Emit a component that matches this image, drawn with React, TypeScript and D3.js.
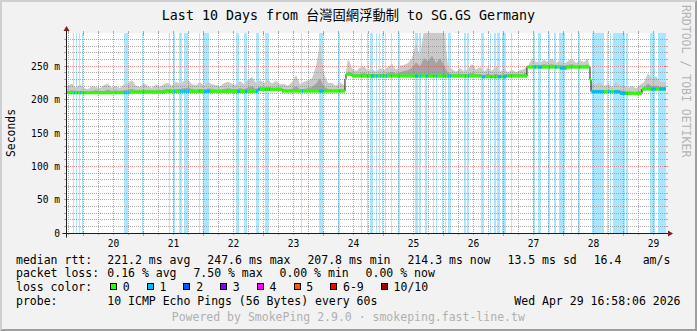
import React from 'react';
import * as d3 from 'd3';

const WIDTH = 697;
const HEIGHT = 331;
const FONT = '"DejaVu Sans Mono", "Noto Sans CJK TC", monospace';

const titleText = 'Last 10 Days from 台灣固網浮動制 to SG.GS Germany';
const yAxisTitle = 'Seconds';
const watermark = 'RRDTOOL / TOBI OETIKER';

// time is expressed in (fractional) days of April 2026
const timeStart = 19.70701; // Apr 19 16:58:06
const timeEnd = 29.70701; // Apr 29 16:58:06
const valueMax = 300; // ms

const yTickValues = [0, 50, 100, 150, 200, 250];
const yTickLabels = ['0', '50 m', '100 m', '150 m', '200 m', '250 m'];
const dayLabels = ['20', '21', '22', '23', '24', '25', '26', '27', '28', '29'];

// median rtt (ms), step segments starting at these times
const medianStart = [
  19.70701, 20.774, 21.357, 22.907, 23.307, 24.357, 24.374, 24.474, 26.64, 27.04,
  27.39, 27.94, 28.057, 28.44, 28.457, 28.94, 29.307,
];
const medianValue = [
  210.5, 211.5, 212.5, 215.5, 213, 231, 238, 235.5, 234.5, 235.5,
  249, 247.5, 249, 230, 212, 209.5, 216,
];

// periods with 1/10 packet loss [from, to]
const lossSpans: [number, number][] = [
  [19.84, 19.857], [19.89, 19.907], [19.94, 19.957], [19.99, 20.007],
  [20.674, 20.69], [20.707, 20.724], [20.74, 20.757], [20.99, 21.007],
  [21.424, 21.44], [21.507, 21.524], [21.607, 21.624], [21.64, 21.657],
  [21.674, 21.69], [21.707, 21.724], [21.74, 21.757], [21.924, 21.94],
  [22.007, 22.107], [22.557, 22.607], [22.69, 22.724], [22.874, 22.94],
  [23.024, 23.04], [23.057, 23.074], [23.09, 23.107], [23.64, 23.657],
  [23.924, 24.007], [24.257, 24.274], [24.624, 24.64], [24.724, 24.74],
  [24.79, 24.84], [24.874, 24.89], [24.94, 24.957], [24.99, 25.007],
  [25.04, 25.057], [25.124, 25.14], [25.257, 25.274], [25.524, 25.574],
  [25.607, 25.624], [25.707, 25.74], [25.824, 25.84], [25.874, 25.89],
  [25.99, 26.007], [26.024, 26.04], [26.074, 26.09], [26.107, 26.124],
  [26.357, 26.374], [26.407, 26.424], [26.64, 26.69], [26.79, 26.807],
  [26.857, 26.874], [26.907, 26.957], [26.99, 27.057], [27.124, 27.14],
  [27.507, 27.54], [27.574, 27.64], [27.757, 27.774], [27.857, 27.89],
  [27.94, 28.04], [28.124, 28.14], [28.257, 28.274], [28.474, 28.674],
  [28.74, 28.757], [28.774, 28.79], [28.84, 29.04], [29.057, 29.074],
  [29.457, 29.54], [29.59, 29.70701],
];

// smoke: one sample every 1.6 h (1/15 day) from timeStart
const smokeStepDays = 1 / 15;
const smokeMax = [
  221, 224, 218, 223, 217, 216, 220, 219, 217, 222, 224, 218, 221, 217, 223, 225,
  229, 221, 219, 225, 220, 218, 223, 219, 224,
  225, 221, 227, 224, 228, 230, 223, 222, 226, 221, 227, 223, 222, 220, 225, 227, 224, 222, 228, 223, 230, 234, 225,
  229, 225, 230, 224, 228, 223,
  224, 221, 226, 237, 223, 227, 229, 232, 250, 283, 238, 225,
  225, 221, 226, 222,
  262,
  247, 243, 248, 250, 243, 246, 242, 247, 244, 249, 254, 245, 251,
  252, 255, 262, 285, 265, 310, 310, 310, 310, 310, 310, 250,
  246, 242, 247, 243, 246,
  254, 245, 249, 242, 248, 243, 250, 242, 246, 241, 245, 241, 244, 246, 250,
  262, 257, 255, 260, 256, 262, 255, 259, 254, 258, 261, 255, 259, 256, 262,
  224,
  223, 226, 220, 224, 219, 226, 221, 222, 218, 221, 217, 222,
  226, 240, 231, 235, 227, 226,
];
const smokeMid = [
  213, 214, 213, 213, 213, 212, 213, 214, 213, 213, 215, 213, 214, 213, 214, 215,
  216, 214, 214, 215, 214, 214, 214, 214, 215,
  216, 215, 216, 216, 217, 218, 216, 215, 216, 215, 217, 216, 215, 215, 216, 217, 216, 216, 217, 216, 218, 220, 216,
  219, 218, 219, 218, 218, 218,
  216, 215, 216, 220, 216, 216, 217, 219, 224, 232, 219, 216,
  215, 215, 216, 215,
  243,
  238, 238, 239, 240, 238, 239, 238, 239, 238, 240, 242, 239, 241,
  243, 244, 248, 256, 250, 262, 258, 266, 255, 262, 252, 240,
  238, 238, 239, 238, 239,
  240, 238, 238, 237, 239, 237, 239, 237, 238, 238, 239, 238, 238, 239, 241,
  252, 252, 251, 253, 252, 253, 251, 252, 251, 252, 253, 251, 252, 251, 253,
  214,
  214, 215, 214, 214, 213, 215, 214, 213, 212, 212, 211, 213,
  219, 224, 220, 221, 219, 219,
];

// legend
const rttLabel = 'median rtt:';
const rttStats = ['221.2 ms avg', '247.6 ms max', '207.8 ms min', '214.3 ms now', '13.5 ms sd'];
const amsValue = '16.4';
const amsUnit = 'am/s';
const lossLabel = 'packet loss:';
const lossStats = ['0.16 % avg', '7.50 % max', '0.00 % min', '0.00 % now'];
const lossColorLabel = 'loss color:';
const lossColorNames = ['0', '1', '2', '3', '4', '5', '6-9', '10/10'];
const lossColors = ['#26ff00', '#00b8ff', '#0059ff', '#7e00ff', '#ff00ff', '#ff5500', '#ff0000', '#a10000'];
const probeLabel = 'probe:';
const probeText = '10 ICMP Echo Pings (56 Bytes) every 60s';
const dateText = 'Wed Apr 29 16:58:06 2026';
const footerText = 'Powered by SmokePing 2.9.0 · smokeping.fast-line.tw';

type Pt = [number, number];

export default function App() {
  const x = d3.scaleLinear().domain([timeStart, timeEnd]).range([66, 666]);
  const y = d3.scaleLinear().domain([0, valueMax]).range([233, 33]);
  const left = x(timeStart);
  const right = x(timeEnd);
  const top = y(valueMax);
  const bottom = y(0);
  const X0 = Math.floor(left) + 0.5;
  const Y0 = Math.floor(bottom) + 0.5;
  const gx = (t: number) => Math.floor(x(t)) + 0.5;
  const gy = (v: number) => Math.floor(y(v)) + 0.5;

  const medianAt = (t: number) => {
    let v = medianValue[0];
    medianStart.forEach((s, i) => {
      if (s <= t) v = medianValue[i];
    });
    return v;
  };
  const medianPts: Pt[] = medianStart
    .map((t, i) => [t, medianValue[i]] as Pt)
    .concat([[timeEnd, medianValue[medianValue.length - 1]]]);

  const stepLine = d3.line<Pt>().curve(d3.curveStepAfter).x((d) => x(d[0])).y((d) => y(d[1]));
  const band = d3
    .area<Pt>()
    .curve(d3.curveStepAfter)
    .x((d) => x(d[0]))
    .y0((d) => y(d[1]) + 1.5)
    .y1((d) => y(d[1]) - 1.5);
  const clipAbove = d3
    .area<Pt>()
    .curve(d3.curveStepAfter)
    .x((d) => x(d[0]))
    .y0((d) => y(d[1] - 2))
    .y1(() => top);

  const smokePts = (arr: number[]): Pt[] => [
    [timeStart, arr[0]],
    ...arr.map((v, i) => [timeStart + (i + 0.5) * smokeStepDays, v] as Pt),
    [timeEnd, arr[arr.length - 1]],
  ];
  const smokeArea = d3
    .area<Pt>()
    .x((d) => x(d[0]))
    .y0(() => bottom)
    .y1((d) => y(Math.min(d[1], valueMax + 5)));

  const lossPieces = lossSpans.map(([a, b]) => {
    const pts: Pt[] = [[a, medianAt(a)]];
    medianStart.forEach((t, i) => {
      if (t > a && t < b) pts.push([t, medianValue[i]]);
    });
    pts.push([b, medianAt(b - 1e-9)]);
    return pts;
  });

  const minorTimes = d3
    .range(Math.ceil(timeStart * 4) / 4, timeEnd, 0.25)
    .filter((t) => Math.abs(t - Math.round(t)) > 1e-6);
  const majorTimes = d3.range(Math.ceil(timeStart), timeEnd, 1);
  const minorVals = d3.range(10, valueMax, 10).filter((v) => v % 50 !== 0);
  const majorVals = d3.range(50, valueMax, 50);

  const minorCol = 'rgba(143,143,143,0.75)';
  const majorCol = 'rgba(222,79,79,0.6)';
  const dash = '1 1';

  const rowY = [263.5, 277.3, 291, 304.8];
  const charW = 6.92;
  const boxX: number[] = [];
  lossColorNames.reduce((acc, name) => {
    boxX.push(acc);
    return acc + 29.8 + name.length * charW;
  }, 110);

  return (
    <svg
      width={WIDTH}
      height={HEIGHT}
      viewBox={`0 0 ${WIDTH} ${HEIGHT}`}
      style={{ position: 'absolute', left: 0, top: 0, display: 'block' }}
      fontFamily={FONT}
    >
      <defs>
        <clipPath id="aboveMedian">
          <path d={clipAbove(medianPts) || ''} />
        </clipPath>
        <clipPath id="plotClip">
          <rect x={left} y={top} width={right - left} height={bottom - top} />
        </clipPath>
      </defs>
      <rect x={0} y={0} width={WIDTH} height={HEIGHT} fill="#f2f2f2" />
      {/* 3d border */}
      <polygon
        points={`0,0 0,${HEIGHT} 2,${HEIGHT - 2} 2,2 ${WIDTH - 2},2 ${WIDTH},0`}
        fill="#cfcfcf"
      />
      <polygon
        points={`0,${HEIGHT} ${WIDTH},${HEIGHT} ${WIDTH},0 ${WIDTH - 2},2 ${WIDTH - 2},${HEIGHT - 2} 2,${HEIGHT - 2}`}
        fill="#9e9e9e"
      />
      {/* canvas */}
      <rect x={left} y={top} width={right - left} height={bottom - top} fill="#ffffff" />

      {/* loss background */}
      <g clipPath="url(#plotClip)" shapeRendering="crispEdges">
        {lossSpans.map(([a, b], i) => (
          <rect
            key={i}
            x={Math.floor(x(a))}
            y={top}
            width={Math.max(1, Math.floor(x(b)) - Math.floor(x(a)))}
            height={bottom - top}
            fill={lossColors[1]}
            fillOpacity={0.34}
          />
        ))}
      </g>

      {/* smoke */}
      <g clipPath="url(#plotClip)">
        <g clipPath="url(#aboveMedian)">
          <path d={smokeArea(smokePts(smokeMax)) || ''} fill="#cacaca" />
          <path d={smokeArea(smokePts(smokeMid)) || ''} fill="#a4a4a4" />
        </g>
      </g>

      {/* grid */}
      <g strokeWidth={1}>
        {minorTimes.map((t, i) => (
          <line key={'vm' + i} x1={gx(t)} x2={gx(t)} y1={top} y2={bottom} stroke={minorCol} strokeDasharray={dash} />
        ))}
        {minorVals.map((v, i) => (
          <line key={'hm' + i} x1={left} x2={right} y1={gy(v)} y2={gy(v)} stroke={minorCol} strokeDasharray={dash} />
        ))}
        {majorTimes.map((t, i) => (
          <line key={'vM' + i} x1={gx(t)} x2={gx(t)} y1={top} y2={bottom} stroke={majorCol} strokeDasharray={dash} />
        ))}
        {majorVals.map((v, i) => (
          <line key={'hM' + i} x1={left} x2={right} y1={gy(v)} y2={gy(v)} stroke={majorCol} strokeDasharray={dash} />
        ))}
        {/* ticks */}
        {minorVals.map((v, i) => (
          <g key={'tm' + i}>
            <line x1={left - 2} x2={left} y1={gy(v)} y2={gy(v)} stroke={minorCol} />
            <line x1={right} x2={right + 2} y1={gy(v)} y2={gy(v)} stroke={minorCol} />
          </g>
        ))}
        {majorVals.map((v, i) => (
          <g key={'tM' + i}>
            <line x1={left - 2} x2={left + 2} y1={gy(v)} y2={gy(v)} stroke={majorCol} />
            <line x1={right - 2} x2={right + 2} y1={gy(v)} y2={gy(v)} stroke={majorCol} />
          </g>
        ))}
        {minorTimes.map((t, i) => (
          <g key={'xm' + i}>
            <line x1={gx(t)} x2={gx(t)} y1={bottom} y2={bottom + 2} stroke={minorCol} />
            <line x1={gx(t)} x2={gx(t)} y1={top - 2} y2={top} stroke={minorCol} />
          </g>
        ))}
        {majorTimes.map((t, i) => (
          <g key={'xM' + i}>
            <line x1={gx(t)} x2={gx(t)} y1={bottom - 2} y2={bottom + 3} stroke={majorCol} />
            <line x1={gx(t)} x2={gx(t)} y1={top - 2} y2={top + 2} stroke={majorCol} />
          </g>
        ))}
      </g>

      {/* median */}
      <g clipPath="url(#plotClip)">
        <path d={stepLine(medianPts) || ''} fill="none" stroke="#202020" strokeWidth={1} />
        <path d={band(medianPts) || ''} fill={lossColors[0]} />
        {lossPieces.map((pts, i) => (
          <path key={i} d={band(pts) || ''} fill={lossColors[1]} />
        ))}
      </g>

      {/* axes */}
      <line x1={X0 - 4} x2={right + 4} y1={Y0} y2={Y0} stroke="#1f1f1f" strokeWidth={1} />
      <line x1={X0} x2={X0} y1={Y0 + 4} y2={top - 4} stroke="#1f1f1f" strokeWidth={1} />
      <polygon
        points={`${right + 2},${Y0 - 3} ${right + 2},${Y0 + 3} ${right + 7},${Y0}`}
        fill="#801f1f"
      />
      <polygon
        points={`${X0 - 3},${top - 2} ${X0 + 3},${top - 2} ${X0},${top - 7}`}
        fill="#801f1f"
      />

      {/* axis labels */}
      {yTickValues.map((v, i) => (
        <text key={'yl' + i} x={60} y={y(v) + 3.5} fontSize={9.6} textAnchor="end" fill="#000">
          {yTickLabels[i]}
        </text>
      ))}
      {dayLabels.map((d, i) => (
        <text key={'xl' + i} x={x(+d + 0.5)} y={246.5} fontSize={9.6} textAnchor="middle" fill="#000">
          {d}
        </text>
      ))}
      <text
        transform={`translate(15,${(top + bottom) / 2}) rotate(-90)`}
        fontSize={11.4}
        textAnchor="middle"
        fill="#000"
      >
        {yAxisTitle}
      </text>

      {/* title */}
      <text x={348.5} y={19.7} fontSize={13.3} textAnchor="middle" fill="#000">
        {titleText}
      </text>

      {/* watermark */}
      <text transform="translate(682,5) rotate(90)" fontSize={11.5} fill="#b4b4b4">
        {watermark}
      </text>

      {/* legend */}
      <g fontSize={11.5} fill="#000">
        <text x={16} y={rowY[0]}>{rttLabel}</text>
        {rttStats.map((s, i) => (
          <text key={'r' + i} x={107.3 + i * 100.05} y={rowY[0]}>
            {s}
          </text>
        ))}
        <text x={593.7} y={rowY[0]}>{amsValue}</text>
        <text x={642.7} y={rowY[0]}>{amsUnit}</text>

        <text x={16} y={rowY[1]}>{lossLabel}</text>
        {lossStats.map((s, i) => (
          <text key={'l' + i} x={107.3 + i * 86.1} y={rowY[1]}>
            {s}
          </text>
        ))}

        <text x={16} y={rowY[2]}>{lossColorLabel}</text>
        {lossColorNames.map((name, i) => (
          <g key={'c' + i}>
            <rect
              x={boxX[i] + 0.5}
              y={283.5}
              width={6}
              height={6}
              fill={lossColors[i]}
              stroke="#000"
              strokeWidth={1}
              shapeRendering="crispEdges"
            />
            <text x={boxX[i] + 12.7} y={rowY[2]}>
              {name}
            </text>
          </g>
        ))}

        <text x={16} y={rowY[3]}>{probeLabel}</text>
        <text x={107.3} y={rowY[3]}>{probeText}</text>
        <text x={680.5} y={rowY[3]} textAnchor="end">
          {dateText}
        </text>
      </g>
      <text x={348.3} y={320.8} fontSize={11.5} textAnchor="middle" fill="#b0b0b0">
        {footerText}
      </text>
    </svg>
  );
}
